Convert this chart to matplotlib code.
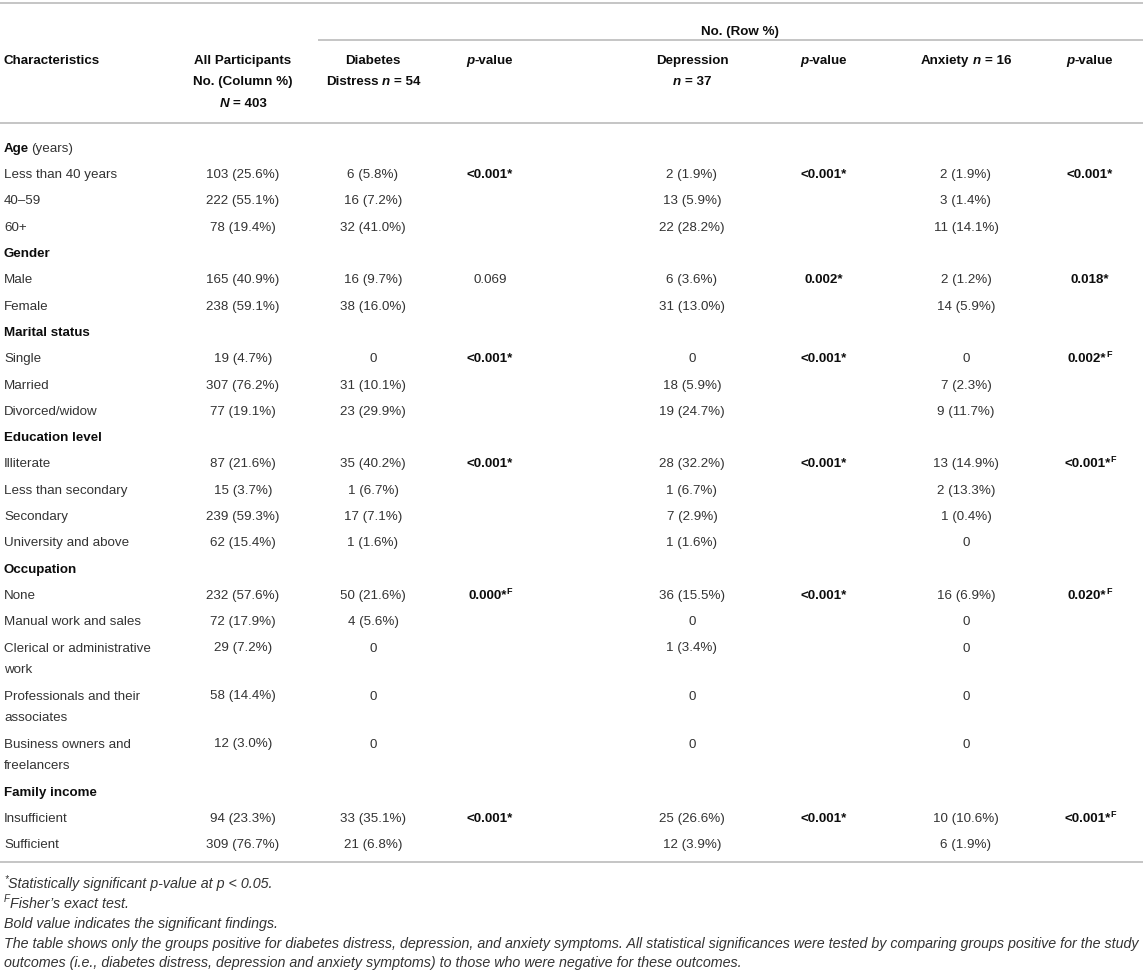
import matplotlib
matplotlib.use('Agg')
import matplotlib.pyplot as plt

W, H = 1143, 972
FONT = 'Liberation Sans'
FS = 9.6
C_TXT = '#333333'
C_BOLD = '#0d0d0d'
C_RULE = '#b5b5b5'

# ── table data ────────────────────────────────────────────────────
row_labels = ['_Age (years)', 'Less than 40 years', '40–59', '60+',
              '_Gender', 'Male', 'Female',
              '_Marital status', 'Single', 'Married', 'Divorced/widow',
              '_Education level', 'Illiterate', 'Less than secondary', 'Secondary',
              'University and above',
              '_Occupation', 'None', 'Manual work and sales',
              'Clerical or administrative\nwork', 'Professionals and their\nassociates',
              'Business owners and\nfreelancers',
              '_Family income', 'Insufficient', 'Sufficient']
all_part = ['', '103 (25.6%)', '222 (55.1%)', '78 (19.4%)',
            '', '165 (40.9%)', '238 (59.1%)',
            '', '19 (4.7%)', '307 (76.2%)', '77 (19.1%)',
            '', '87 (21.6%)', '15 (3.7%)', '239 (59.3%)', '62 (15.4%)',
            '', '232 (57.6%)', '72 (17.9%)', '29 (7.2%)', '58 (14.4%)', '12 (3.0%)',
            '', '94 (23.3%)', '309 (76.7%)']
distress = ['', '6 (5.8%)', '16 (7.2%)', '32 (41.0%)',
            '', '16 (9.7%)', '38 (16.0%)',
            '', '0', '31 (10.1%)', '23 (29.9%)',
            '', '35 (40.2%)', '1 (6.7%)', '17 (7.1%)', '1 (1.6%)',
            '', '50 (21.6%)', '4 (5.6%)', '0', '0', '0',
            '', '33 (35.1%)', '21 (6.8%)']
p_distress = ['', '<0.001*', '', '', '', '0.069', '', '', '<0.001*', '', '',
              '', '<0.001*', '', '', '', '', '0.000*^F^', '', '', '', '',
              '', '<0.001*', '']
depression = ['', '2 (1.9%)', '13 (5.9%)', '22 (28.2%)',
              '', '6 (3.6%)', '31 (13.0%)',
              '', '0', '18 (5.9%)', '19 (24.7%)',
              '', '28 (32.2%)', '1 (6.7%)', '7 (2.9%)', '1 (1.6%)',
              '', '36 (15.5%)', '0', '1 (3.4%)', '0', '0',
              '', '25 (26.6%)', '12 (3.9%)']
p_depression = ['', '<0.001*', '', '', '', '0.002*', '', '', '<0.001*', '', '',
                '', '<0.001*', '', '', '', '', '<0.001*', '', '', '', '',
                '', '<0.001*', '']
anxiety = ['', '2 (1.9%)', '3 (1.4%)', '11 (14.1%)',
           '', '2 (1.2%)', '14 (5.9%)',
           '', '0', '7 (2.3%)', '9 (11.7%)',
           '', '13 (14.9%)', '2 (13.3%)', '1 (0.4%)', '0',
           '', '16 (6.9%)', '0', '0', '0', '0',
           '', '10 (10.6%)', '6 (1.9%)']
p_anxiety = ['', '<0.001*', '', '', '', '0.018*', '', '', '0.002*^F^', '', '',
             '', '<0.001*^F^', '', '', '', '', '0.020*^F^', '', '', '', '',
             '', '<0.001*^F^', '']

col_x = [243, 373, 490, 692, 824, 966, 1090]
columns = [all_part, distress, p_distress, depression, p_depression, anxiety, p_anxiety]

headers = [['All Participants', 'No. (Column %)', '_N_ = 403'],
           ['Diabetes', 'Distress _n_ = 54'],
           ['_p_-value'],
           ['Depression', '_n_ = 37'],
           ['_p_-value'],
           ['Anxiety _n_ = 16'],
           ['_p_-value']]

footnotes = ['^*^Statistically significant p-value at p < 0.05.',
             '^F^Fisher\u2019s exact test.',
             'Bold value indicates the significant findings.',
             'The table shows only the groups positive for diabetes distress, depression, '
             'and anxiety symptoms. All statistical significances were tested by comparing '
             'groups positive for the study',
             'outcomes (i.e., diabetes distress, depression and anxiety symptoms) to those '
             'who were negative for these outcomes.']

# ── figure ────────────────────────────────────────────────────────
fig = plt.figure(figsize=(W / 100, H / 100), dpi=100)
ax = fig.add_axes([0, 0, 1, 1])
ax.set_xlim(0, W)
ax.set_ylim(H, 0)
ax.axis('off')
renderer = fig.canvas.get_renderer()


def ink(s, weight, style, size):
    t = ax.text(0, 0, s, fontfamily=FONT, fontweight=weight, fontstyle=style, fontsize=size)
    w = t.get_window_extent(renderer).width
    t.remove()
    return w


def advance(s, weight, style, size):
    # width incl. leading / trailing spaces
    return ink('|' + s + '|', weight, style, size) - ink('||', weight, style, size)


def segments(markup):
    out = []
    italic = False
    for i, part in enumerate(markup.split('_')):
        if i > 0:
            italic = not italic
        sup = False
        for j, sub in enumerate(part.split('^')):
            if j > 0:
                sup = not sup
            if sub:
                out.append((sub, italic, sup))
    return out


def rich(x, yc, markup, bold=False, italic=False, ha='left', size=FS, color=None):
    weight = 'bold' if bold else 'normal'
    color = color or (C_BOLD if bold else C_TXT)
    segs = segments(markup)
    info = []
    for s, it, sup in segs:
        st = 'italic' if (it != italic) else 'normal'
        sz = size * (0.68 if sup else 1.0)
        info.append((st, sz, advance(s, weight, st, sz)))
    total = sum(w for _, _, w in info)
    if len(segs) == 1:
        total = ink(segs[0][0].strip(), weight, info[0][0], info[0][1])
    x0 = x - total / 2 if ha == 'center' else x
    base = yc + size * 0.5
    for (s, it, sup), (st, sz, w) in zip(segs, info):
        lead = len(s) - len(s.lstrip(' '))
        xs = x0 + (advance(' ' * lead, weight, st, sz) if lead else 0)
        ax.text(xs, base - (size * 0.55 if sup else 0), s.strip(' '), fontfamily=FONT,
                fontweight=weight, fontstyle=st, fontsize=sz, color=color,
                ha='left', va='baseline')
        x0 += w


def rule(y, x0=0, x1=W):
    ax.plot([x0, x1], [y, y], color=C_RULE, lw=1.1, solid_capstyle='butt')


# rules
rule(3)
rule(40, 318)
rule(123)
rule(862)

# header
rich(740, 30, 'No. (Row %)', bold=True, ha='center')
rich(4, 59, 'Characteristics', bold=True)
for cx, lines in zip(col_x, headers):
    for k, line in enumerate(lines):
        rich(cx, 59 + k * 21.5, line, bold=True, ha='center')

# body
y = 147
for i, lab in enumerate(row_labels):
    if lab.startswith('_'):
        name = lab[1:]
        if name.startswith('Age'):
            rich(4, y, 'Age', bold=True)
            rich(2 + advance('Age ', 'bold', 'normal', FS), y, '(years)')
        else:
            rich(4, y, name, bold=True)
        nlines = 1
    else:
        parts = lab.split('\n')
        for k, p in enumerate(parts):
            rich(4, y + k * 21.5, p)
        nlines = len(parts)
        for cx, col in zip(col_x, columns):
            v = col[i]
            if v:
                rich(cx, y, v, bold=('*' in v), ha='center')
    y += 26.3 + 21.7 * (nlines - 1)

# footnotes
fs_note = FS * 1152 / ink(footnotes[3], 'normal', 'italic', FS)
for k, note in enumerate(footnotes):
    rich(4, 883 + k * 19.8, note, italic=True, size=fs_note)

fig.savefig('out.png', dpi=100, facecolor='white')
